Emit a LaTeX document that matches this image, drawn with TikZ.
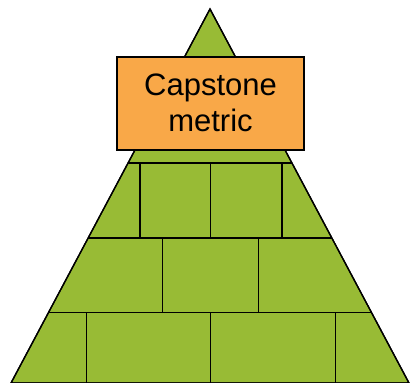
\documentclass[tikz,border=0pt]{standalone}
\usepackage{fontspec}
\setmainfont{Liberation Sans}
\usepackage{tikz}
\usetikzlibrary{positioning}

\definecolor{pyrgreen}{HTML}{98BB35}
\definecolor{caporange}{HTML}{F9A848}

\begin{document}
\begin{tikzpicture}[
  x=1pt, y=-1pt,
  pyramid/.style={fill=pyrgreen, draw=black, line width=1.3pt},
  joint/.style={draw=black, line width=1.3pt},
  capbox/.style={rectangle, draw=black, line width=1.3pt, fill=caporange,
    minimum width=187pt, minimum height=93pt, align=center,
    font=\fontsize{31}{36}\selectfont, inner sep=0pt}
]
\useasboundingbox (0,0) rectangle (410,383);
% pyramid body
\coordinate (apex) at (210,9);
\coordinate (baseL) at (11,383);
\coordinate (baseR) at (409,383);
\draw[pyramid] (apex) -- (baseR) -- (baseL) -- cycle;
% brick joints, clipped to the pyramid
\begin{scope}
  \clip (apex) -- (baseR) -- (baseL) -- cycle;
  \foreach \y in {163,238,312.5}
    \draw[joint] (0,\y) -- (410,\y);
  \foreach \x in {140,210.5,282}
    \draw[joint] (\x,163) -- (\x,238);
  \foreach \x in {162.5,258.5}
    \draw[joint] (\x,238) -- (\x,312.5);
  \foreach \x in {86.5,210.5,335.5}
    \draw[joint] (\x,312.5) -- (\x,383);
\end{scope}
\draw[line width=1.3pt] (apex) -- (baseR) -- (baseL) -- cycle;
% capstone
\node[capbox] (cap) at (210.5,103.5) {\raisebox{2pt}{Capstone}\\\raisebox{2pt}{metric}};
\end{tikzpicture}
\end{document}
